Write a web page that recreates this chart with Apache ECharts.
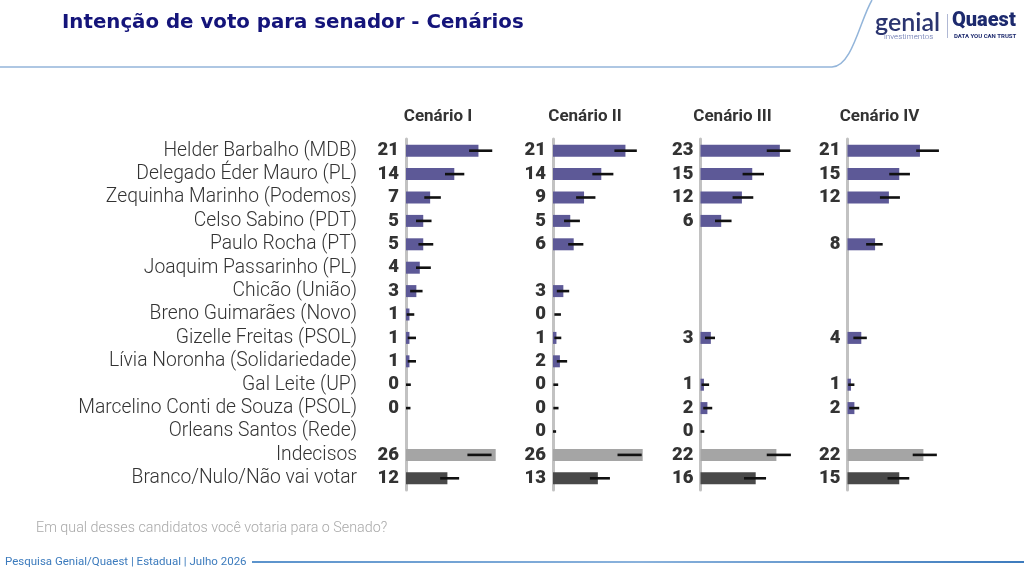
<!DOCTYPE html>
<html><head><meta charset="utf-8">
<script src="https://cdn.jsdelivr.net/npm/echarts@6/dist/echarts.min.js"></script>
<style>html,body{margin:0;padding:0;background:#fff}#c{width:1024px;height:572px}</style>
</head><body><div id="c"></div>
<script>
const categories = ['Helder Barbalho (MDB)','Delegado Éder Mauro (PL)','Zequinha Marinho (Podemos)','Celso Sabino (PDT)','Paulo Rocha (PT)','Joaquim Passarinho (PL)','Chicão (União)','Breno Guimarães (Novo)','Gizelle Freitas (PSOL)','Lívia Noronha (Solidariedade)','Gal Leite (UP)','Marcelino Conti de Souza (PSOL)','Orleans Santos (Rede)','Indecisos','Branco/Nulo/Não vai votar'];
const scenarios = ['Cenário I','Cenário II','Cenário III','Cenário IV'];

const valuesI   = [21,14,7,5,5,4,3,1,1,1,0,0,null,26,12];
const valuesII  = [21,14,9,5,6,null,3,0,1,2,0,0,0,26,13];
const valuesIII = [23,15,12,6,null,null,null,null,3,null,1,2,0,22,16];
const valuesIV  = [21,15,12,null,8,null,null,null,4,null,1,2,null,22,15];

const lowI    = [18.3,11.3,5.3,2.9,3.6,2.9,1.2,0.2,0.5,0.5,0,0,null,17.8,9.9];
const highI   = [25.0,16.9,10.1,7.4,7.9,7.2,4.8,2.4,2.9,2.9,1.4,1.3,null,24.8,15.4];
const lowII   = [17.8,11.4,6.7,3.2,4.4,null,1.1,0.4,0.4,1.1,0.1,0.1,0,18.7,10.7];
const highII  = [24.3,17.5,12.3,7.8,8.8,null,4.7,2.3,2.4,4.1,1.5,1.6,0.9,25.7,16.5];
const lowIII  = [19.2,12.2,9.3,4.2,null,null,null,null,1.3,null,0.3,0.8,0,19.2,12.6];
const highIII = [26.1,18.4,15.3,9.0,null,null,null,null,4.2,null,2.5,3.4,1.1,26.2,19.0];
const lowIV   = [19.9,12.1,9.4,null,5.4,null,null,null,1.7,null,0.2,0.5,null,18.9,11.6];
const highIV  = [26.5,18.1,15.2,null,10.2,null,null,null,5.6,null,2.0,3.4,null,25.9,17.9];

const values = [valuesI, valuesII, valuesIII, valuesIV];
const lows = [lowI, lowII, lowIII, lowIV];
const highs = [highI, highII, highIII, highIV];

const origins = [406, 553, 700.5, 847.5];
const XMAX = 32, PX = 3.45;
const GRID_TOP = 139, GRID_H = 351;
const FONT = 'Roboto, "Noto Sans", sans-serif';

function barColor(i){
  if (categories[i] === 'Indecisos') return '#a5a5a5';
  if (i === categories.length - 1) return '#494949';
  return '#5d5997';
}

const grids = [], xAxes = [], yAxes = [], series = [];
values.forEach((vals, k) => {
  grids.push({left: origins[k], top: GRID_TOP, width: XMAX*PX, height: GRID_H, containLabel: false});
  xAxes.push({type:'value', gridIndex:k, min:0, max:XMAX, show:false});
  yAxes.push({
    type:'category', gridIndex:k, data:categories, inverse:true,
    axisLine:{show:true, lineStyle:{color:'#c2c2c2', width:3}},
    axisTick:{show:false},
    axisLabel:{show:k===0, interval:0, margin:49, fontFamily:FONT, fontWeight:300, fontSize:19.3, color:'#333'}
  });
  series.push({
    type:'bar', xAxisIndex:k, yAxisIndex:k, barWidth:12,
    data: vals.map((v,i) => v === null ? null : {value:v, itemStyle:{color:barColor(i)}}),
    label:{show:true, position:'left', distance:7, formatter:'{c}', fontFamily:FONT, fontWeight:900, fontSize:18.5, color:'#333'},
    silent:true, animation:false
  });
  const errData = [];
  lows[k].forEach((lo,i) => { if (lo !== null) errData.push([i, lo, highs[k][i]]); });
  series.push({
    type:'custom', xAxisIndex:k, yAxisIndex:k, z:5, animation:false, silent:true,
    encode:{x:[1,2], y:0},
    data: errData,
    renderItem:(params, api) => {
      const idx = api.value(0);
      const a = api.coord([api.value(1), idx]);
      const b = api.coord([api.value(2), idx]);
      return {type:'line', shape:{x1:a[0], y1:a[1], x2:b[0], y2:b[1]}, style:{stroke:'#111', lineWidth:2.6}};
    }
  });
});

const graphics = [
  {type:'text', x:62, y:13, style:{text:'Intenção de voto para senador - Cenários', font:'bold 19.8px "DejaVu Sans", Roboto, sans-serif', fill:'#14147a'}},
  {type:'line', shape:{x1:0, y1:67, x2:832, y2:67}, style:{stroke:'#93b5da', lineWidth:1.5}},
  {type:'bezierCurve', shape:{x1:832, y1:67, cpx1:852, cpy1:67, cpx2:860, cpy2:20, x2:872, y2:0}, style:{stroke:'#93b5da', lineWidth:1.5, fill:null}},
  {type:'text', x:875, y:10, style:{text:'genial', font:'600 25px Lato, Roboto, sans-serif', fill:'#2b3570'}},
  {type:'text', x:884, y:33, style:{text:'investimentos', font:'300 8px '+FONT, fill:'#5a6aa8'}},
  {type:'rect', shape:{x:947, y:14, width:1, height:24}, style:{fill:'#b0b8d4'}},
  {type:'text', x:952, y:11, style:{text:'Quaest', font:'900 20px '+FONT, fill:'#1d2a6e'}},
  {type:'text', x:954, y:33, style:{text:'DATA YOU CAN TRUST', font:'bold 6px '+FONT, fill:'#1d2a6e'}},
  {type:'text', x:36, y:521, style:{text:'Em qual desses candidatos você votaria para o Senado?', font:'300 14.3px '+FONT, fill:'#a9a9a9'}},
  {type:'text', x:5, y:556, style:{text:'Pesquisa Genial/Quaest | Estadual | Julho 2026', font:'11.5px '+FONT, fill:'#3c7bbd'}},
  {type:'rect', shape:{x:252, y:561, width:772, height:2}, style:{fill:{type:'linear', x:0, y:0, x2:1, y2:0, colorStops:[{offset:0,color:'#5b93cc'},{offset:0.5,color:'#8ab2dc'},{offset:1,color:'#3d7bbd'}]}}}
];
scenarios.forEach((s,k) => {
  graphics.push({type:'text', x:origins[k]+32, y:117, style:{text:s, font:'bold 17px '+FONT, fill:'#333', textAlign:'center', textVerticalAlign:'middle'}});
});

const chart = echarts.init(document.getElementById('c'));
chart.setOption({
  backgroundColor:'#fff',
  animation:false,
  grid:grids, xAxis:xAxes, yAxis:yAxes, series:series,
  graphic:graphics
});
</script></body></html>
